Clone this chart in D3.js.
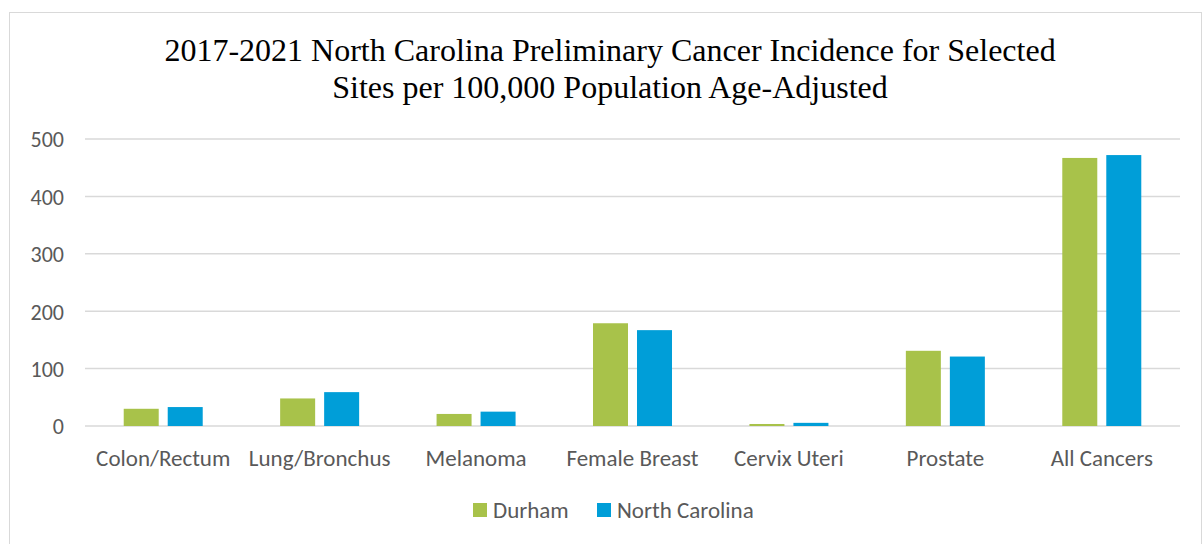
<!DOCTYPE html>
<html><head><meta charset="utf-8">
<script src="https://cdn.jsdelivr.net/npm/d3@7"></script>
<style>body{margin:0;background:#fff}svg{display:block}</style>
</head><body>
<script>
const categories = ["Colon/Rectum","Lung/Bronchus","Melanoma","Female Breast","Cervix Uteri","Prostate","All Cancers"];
const seriesNames = ["Durham","North Carolina"];
const durham = [30, 48, 21, 179, 3.5, 131, 467];
const northCarolina = [33, 59, 25, 167, 5.5, 121, 472];
const yTicks = [0,100,200,300,400,500];
const titleLines = ["2017-2021 North Carolina Preliminary Cancer Incidence for Selected","Sites per 100,000 Population Age-Adjusted"];
const colors = ["#a8c24a","#009ed8"];

const W=1204,H=544;
const svg=d3.select("body").append("svg").attr("width",W).attr("height",H);
svg.append("rect").attr("x",9.5).attr("y",12.5).attr("width",W-12).attr("height",H-10).attr("fill","#fff").attr("stroke","#d9d9d9").attr("stroke-width",1);

const font="Carlito, Calibri, Lato, 'Open Sans', sans-serif";
const x=d3.scaleBand().domain(categories).range([85,1180]);
const y=d3.scaleLinear().domain([0,500]).range([426,139]);

svg.selectAll(".title").data(titleLines).join("text")
 .attr("x",610).attr("y",(d,i)=>61+i*37).attr("text-anchor","middle")
 .attr("font-family","'Liberation Serif','Times New Roman',serif").attr("font-size",32).attr("fill","#000").text(d=>d);

const grid=svg.append("g");
grid.selectAll("line").data(yTicks).join("line")
 .attr("x1",85).attr("x2",1180).attr("y1",d=>y(d)).attr("y2",d=>y(d))
 .attr("stroke","#d9d9d9").attr("stroke-width",1.5);

const yAxis=svg.append("g").attr("transform","translate(85,0)")
 .call(d3.axisLeft(y).tickValues(yTicks).tickSize(0).tickPadding(21));
yAxis.select(".domain").remove();
yAxis.selectAll("text").attr("font-family",font).attr("font-size",22).attr("fill","#595959").attr("dy","0.36em");

const xAxis=svg.append("g").attr("transform","translate(0,426)")
 .call(d3.axisBottom(x).tickSize(0));
xAxis.select(".domain").remove();
xAxis.selectAll("text").attr("font-family",font).attr("font-size",23).attr("fill","#595959").attr("y",40).attr("dy",0);

const data=[durham,northCarolina];
const bw=35, gap=9;
data.forEach((vals,s)=>{
  svg.append("g").selectAll("rect").data(vals).join("rect")
   .attr("x",(d,i)=>x(categories[i])+x.bandwidth()/2-(bw+gap/2)+s*(bw+gap))
   .attr("y",d=>y(d)).attr("width",bw).attr("height",d=>y(0)-y(d))
   .attr("fill",colors[s]);
});

const legX=[473,597];
const leg=svg.append("g");
seriesNames.forEach((n,i)=>{
  leg.append("rect").attr("x",legX[i]).attr("y",503).attr("width",14).attr("height",14).attr("fill",colors[i]);
  leg.append("text").attr("x",legX[i]+20).attr("y",518).attr("font-family",font).attr("font-size",23).attr("fill","#595959").text(n);
});
</script>
</body></html>
